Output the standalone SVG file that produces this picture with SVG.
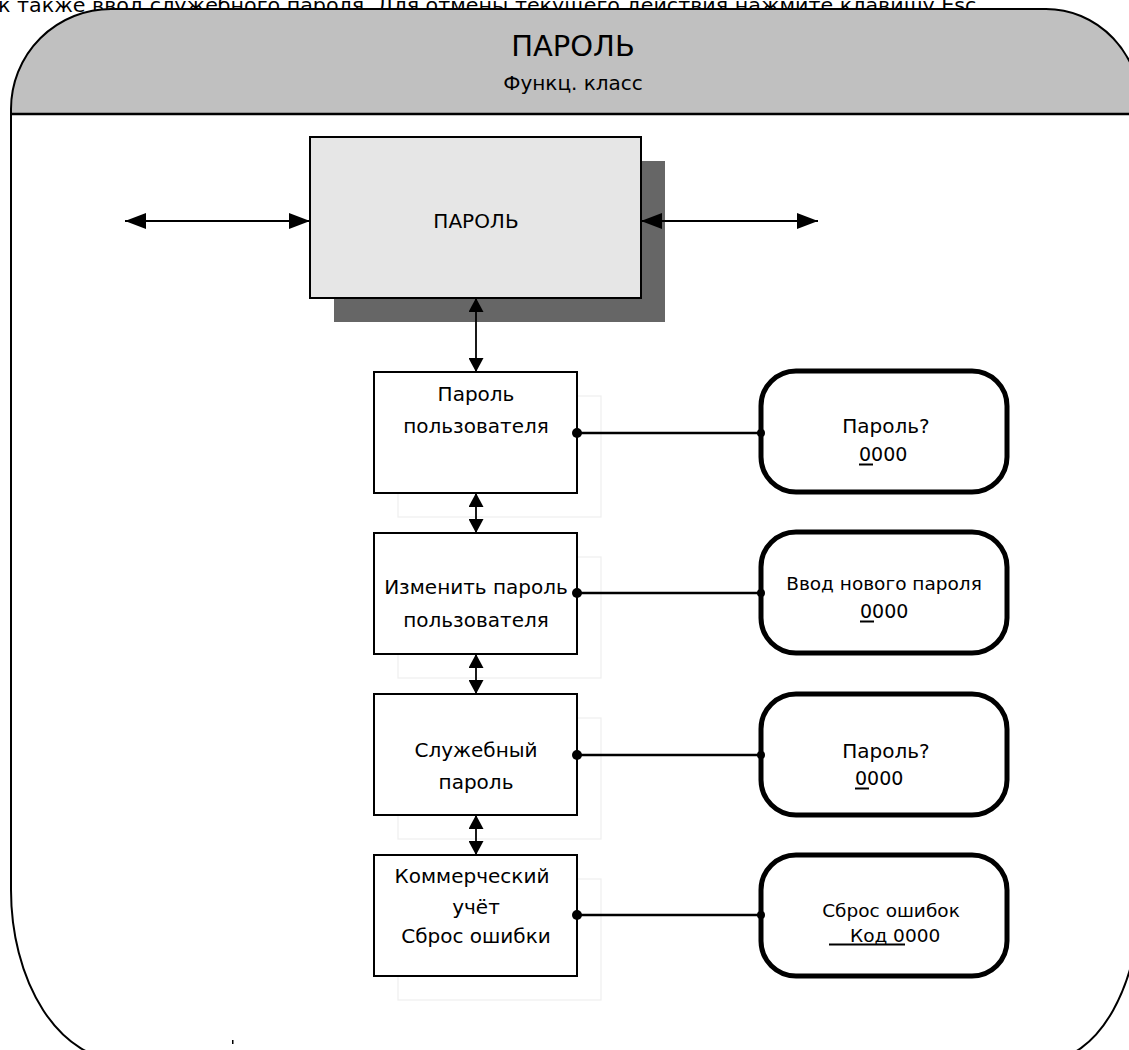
<svg xmlns="http://www.w3.org/2000/svg" width="1129" height="1050" viewBox="0 0 1129 1050">
  <style>
    .txt { font-family: "DejaVu Sans", "Liberation Sans", sans-serif; fill: #000; }
    .c { text-anchor: middle; }
    .box { fill: #fff; stroke: #000; stroke-width: 2; }
    .ghost { fill: none; stroke: #efefef; stroke-width: 1.2; }
    .screen { fill: #fff; stroke: #000; stroke-width: 5; }
    .link { stroke: #000; stroke-width: 1.8; fill: none; }
    .wire { stroke: #000; stroke-width: 2.5; fill: none; }
    .ul { stroke: #000; stroke-width: 2; }
  </style>
  <defs>
    <marker id="bigHead" markerUnits="userSpaceOnUse" markerWidth="22" markerHeight="16" refX="21" refY="8" orient="auto-start-reverse">
      <path d="M0,0 L21,8 L0,16 z" fill="#000"/>
    </marker>
    <marker id="smallHead" markerUnits="userSpaceOnUse" markerWidth="15" markerHeight="15" refX="14" refY="7.5" orient="auto-start-reverse">
      <path d="M0,0 L14,7.5 L0,15 z" fill="#000"/>
    </marker>
  </defs>

  <rect width="1129" height="1050" fill="#fff"/>

  <!-- line of text running off the top edge -->
  <text class="txt" x="-2" y="12" font-size="19" textLength="985" lengthAdjust="spacingAndGlyphs">к также ввод служебного пароля. Для отмены текущего действия нажмите клавишу Esc.</text>

  <!-- outer frame with grey header band -->
  <g id="frame">
    <path d="M11,114 L11,109 A100,100 0 0 1 111,9 L1046,9 A95,100 0 0 1 1141,109 L1141,114 Z" fill="#c0c0c0"/>
    <path d="M11,114 L11,109 A100,100 0 0 1 111,9 L1046,9 A95,100 0 0 1 1141,109 L1141,890 A95,170 0 0 1 1046,1060 L121,1060 A110,170 0 0 1 11,890 Z" fill="none" stroke="#000" stroke-width="2"/>
    <line x1="11" y1="114" x2="1141" y2="114" stroke="#000" stroke-width="2.5"/>
    <text class="txt c" x="573" y="56" font-size="29">ПАРОЛЬ</text>
    <text class="txt c" x="573" y="90" font-size="20">Функц. класс</text>
    <rect x="232" y="1040" width="1.5" height="4" fill="#000"/>
  </g>

  <!-- main block with drop shadow -->
  <g id="node-main">
    <rect x="334" y="161" width="331" height="161" fill="#666"/>
    <rect x="310" y="137" width="331" height="161" fill="#e6e6e6" stroke="#000" stroke-width="2"/>
    <text class="txt c" x="476" y="228" font-size="20">ПАРОЛЬ</text>
  </g>

  <!-- faint offset outlines behind the menu items -->
  <g id="ghosts">
    <rect class="ghost" x="398" y="396" width="203" height="121"/>
    <rect class="ghost" x="398" y="557" width="203" height="121"/>
    <rect class="ghost" x="398" y="718" width="203" height="121"/>
    <rect class="ghost" x="398" y="879" width="203" height="121"/>
  </g>

  <g id="node-user">
    <rect class="box" x="374" y="372" width="203" height="121"/>
    <text class="txt c" x="476" y="401" font-size="20">Пароль</text>
    <text class="txt c" x="476" y="433" font-size="20">пользователя</text>
  </g>
  <g id="node-change">
    <rect class="box" x="374" y="533" width="203" height="121"/>
    <text class="txt c" x="476" y="594" font-size="20">Изменить пароль</text>
    <text class="txt c" x="476" y="627" font-size="20">пользователя</text>
  </g>
  <g id="node-service">
    <rect class="box" x="374" y="694" width="203" height="121"/>
    <text class="txt c" x="476" y="757" font-size="20">Служебный</text>
    <text class="txt c" x="476" y="789" font-size="20">пароль</text>
  </g>
  <g id="node-commercial">
    <rect class="box" x="374" y="855" width="203" height="121"/>
    <text class="txt c" x="472" y="883" font-size="20">Коммерческий</text>
    <text class="txt c" x="476" y="914" font-size="20">учёт</text>
    <text class="txt c" x="476" y="943" font-size="20">Сброс ошибки</text>
  </g>

  <g id="screen-user">
    <rect class="screen" x="761" y="371" width="246" height="121" rx="35"/>
    <text class="txt c" x="886" y="433" font-size="20">Пароль?</text>
    <text class="txt" x="859" y="461" font-size="19">0000</text>
    <line class="ul" x1="859" y1="464.5" x2="873" y2="464.5"/>
  </g>
  <g id="screen-change">
    <rect class="screen" x="761" y="532" width="246" height="121" rx="35"/>
    <text class="txt c" x="884" y="590" font-size="18.5">Ввод нового пароля</text>
    <text class="txt" x="860" y="618" font-size="19">0000</text>
    <line class="ul" x1="860" y1="621.5" x2="874" y2="621.5"/>
  </g>
  <g id="screen-service">
    <rect class="screen" x="761" y="694" width="246" height="121" rx="35"/>
    <text class="txt c" x="886" y="758" font-size="20">Пароль?</text>
    <text class="txt" x="855" y="785" font-size="19">0000</text>
    <line class="ul" x1="855" y1="788.5" x2="869" y2="788.5"/>
  </g>
  <g id="screen-commercial">
    <rect class="screen" x="761" y="855" width="246" height="121" rx="35"/>
    <text class="txt c" x="891" y="917" font-size="18.5">Сброс ошибок</text>
    <text class="txt" x="850" y="942" font-size="18.5">Код 0000</text>
    <line class="ul" x1="829" y1="944.5" x2="905" y2="944.5"/>
  </g>

  <g id="connectors">
    <line class="link" x1="125" y1="221" x2="310" y2="221" marker-start="url(#bigHead)" marker-end="url(#bigHead)"/>
    <line class="link" x1="641" y1="221" x2="818" y2="221" marker-start="url(#bigHead)" marker-end="url(#bigHead)"/>
    <line class="link" x1="476" y1="298" x2="476" y2="372" marker-start="url(#smallHead)" marker-end="url(#smallHead)"/>
    <line class="link" x1="476" y1="493" x2="476" y2="533" marker-start="url(#smallHead)" marker-end="url(#smallHead)"/>
    <line class="link" x1="476" y1="654" x2="476" y2="694" marker-start="url(#smallHead)" marker-end="url(#smallHead)"/>
    <line class="link" x1="476" y1="815" x2="476" y2="855" marker-start="url(#smallHead)" marker-end="url(#smallHead)"/>

    <line class="wire" x1="577" y1="433" x2="761" y2="433"/>
    <circle cx="577" cy="433" r="5"/>
    <circle cx="761" cy="433" r="4"/>
    <line class="wire" x1="577" y1="593" x2="761" y2="593"/>
    <circle cx="577" cy="593" r="5"/>
    <circle cx="761" cy="593" r="4"/>
    <line class="wire" x1="577" y1="755" x2="761" y2="755"/>
    <circle cx="577" cy="755" r="5"/>
    <circle cx="761" cy="755" r="4"/>
    <line class="wire" x1="577" y1="915" x2="761" y2="915"/>
    <circle cx="577" cy="915" r="5"/>
    <circle cx="761" cy="915" r="4"/>
  </g>
</svg>
